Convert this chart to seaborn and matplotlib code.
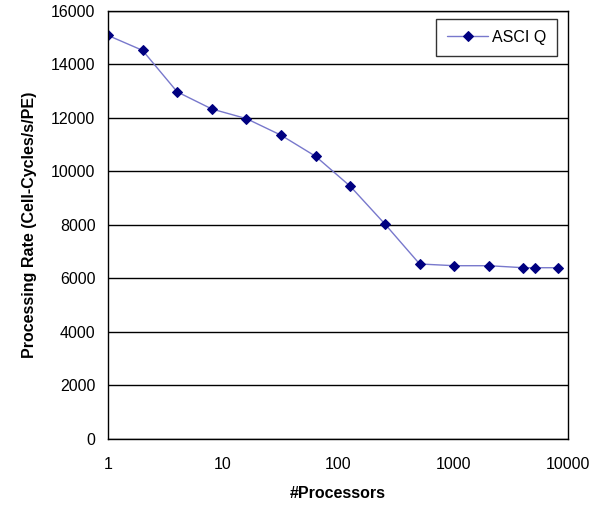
import matplotlib
matplotlib.use("Agg")
import matplotlib.pyplot as plt
import seaborn as sns
import pandas as pd

processors = [1, 2, 4, 8, 16, 32, 64, 128, 256, 512, 1024, 2048, 4096, 5120, 8192]
rate = [15080, 14520, 12970, 12330, 11970, 11350, 10560, 9440, 8030,
        6540, 6475, 6475, 6400, 6400, 6400]
series_name = "ASCI Q"
y_ticks = [0, 2000, 4000, 6000, 8000, 10000, 12000, 14000, 16000]
x_ticks = [1, 10, 100, 1000, 10000]
x_tick_labels = ["1", "10", "100", "1000", "10000"]

df = pd.DataFrame({"processors": processors, "rate": rate})

sns.set_style("white")
plt.rcParams["font.family"] = ["Liberation Sans", "DejaVu Sans"]
plt.rcParams["text.color"] = "black"
plt.rcParams["axes.labelcolor"] = "black"
plt.rcParams["xtick.color"] = "black"
plt.rcParams["ytick.color"] = "black"

fig = plt.figure(figsize=(5.93, 5.08), dpi=100)
ax = fig.add_axes([0.182, 0.1358, 0.776, 0.843])

sns.lineplot(data=df, x="processors", y="rate", ax=ax, label=series_name,
             color="#7878cc", linewidth=1.0, marker="D", markersize=5,
             markerfacecolor="#000080", markeredgecolor="#000080")

ax.set_xscale("log")
ax.set_xlim(1, 10000)
ax.set_ylim(0, 16000)
ax.set_xticks(x_ticks)
ax.set_xticklabels(x_tick_labels)
ax.xaxis.set_minor_locator(matplotlib.ticker.NullLocator())
ax.set_yticks(y_ticks)
ax.yaxis.grid(True, color="#000000", linewidth=1.0)
ax.xaxis.grid(False)
ax.set_axisbelow(True)

for s in ax.spines.values():
    s.set_color("black")
    s.set_linewidth(1.0)

ax.tick_params(axis="both", which="major", direction="out", length=5,
               width=1, color="black", labelcolor="black", labelsize=11.5, pad=4)
ax.tick_params(axis="x", pad=8)

ax.set_xlabel("#Processors", fontsize=11.5, fontweight="bold", labelpad=10,
              color="black")
ax.set_ylabel("Processing Rate (Cell-Cycles/s/PE)", fontsize=11.5,
              fontweight="bold", labelpad=10, color="black")

leg = ax.legend(loc="upper right", bbox_to_anchor=(0.976, 0.981),
                borderaxespad=0, fancybox=False, shadow=False, frameon=True,
                fontsize=11.5, handlelength=2.6, borderpad=0.7,
                handletextpad=0.2)
leg.get_frame().set_edgecolor("black")
leg.get_frame().set_linewidth(1.0)
for t in leg.get_texts():
    t.set_color("black")

fig.savefig("out.png", dpi=100)
